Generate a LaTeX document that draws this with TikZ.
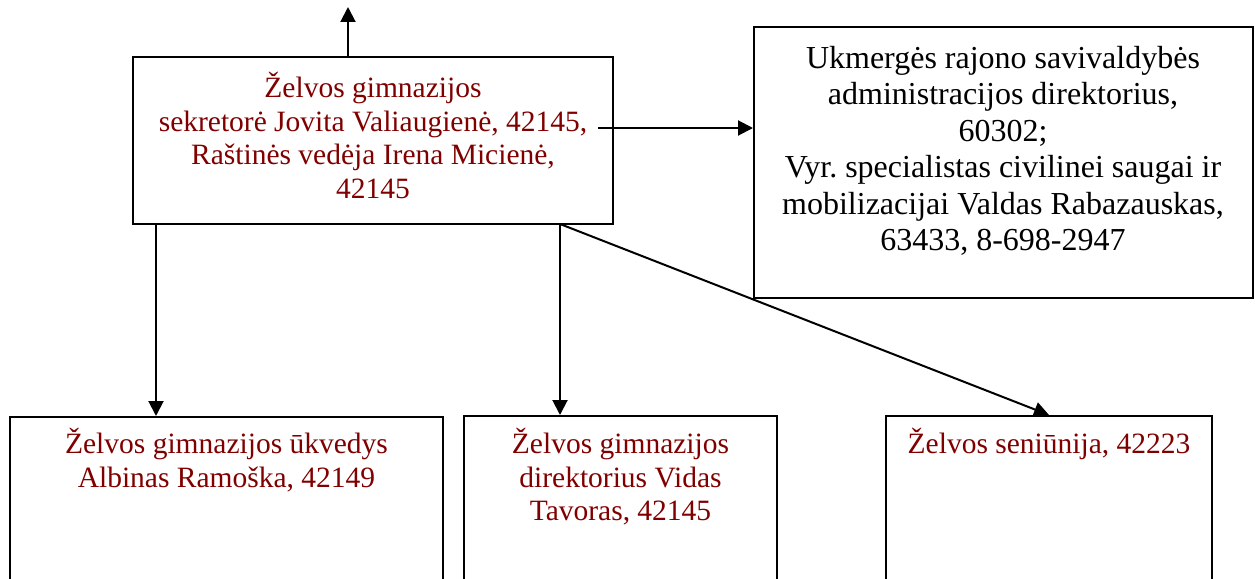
\documentclass[tikz,border=0pt]{standalone}
\usepackage{fontspec}
\setmainfont{Liberation Serif}
\usetikzlibrary{arrows.meta}
\frenchspacing
\definecolor{dred}{RGB}{128,0,0}
\tikzset{
  box/.style={draw=black, line width=2pt, rectangle, inner sep=0pt, fill=none},
  arr/.style={draw=black, line width=2pt, -{Triangle[length=15pt,width=15pt]}},
  redtxt/.style={text=dred, align=center, inner sep=0pt, anchor=north, font=\fontsize{29.5}{33.7}\selectfont},
  blktxt/.style={text=black, align=center, inner sep=0pt, anchor=north, font=\fontsize{32}{36.5}\selectfont\frenchspacing}
}
\begin{document}
\begin{tikzpicture}[x=1pt,y=-1pt]
\useasboundingbox (0,0) rectangle (1255,578);
\clip (0,0) rectangle (1255,578);
% boxes
\node[box, minimum width=480pt, minimum height=167pt] (top) at (373,140.5) {};
\node[box, minimum width=499pt, minimum height=271pt] (right) at (1003.5,162.5) {};
\node[box, minimum width=433pt, minimum height=200pt] (bl) at (226.5,517) {};
\node[box, minimum width=313pt, minimum height=200pt] (bm) at (620.5,516) {};
\node[box, minimum width=326pt, minimum height=200pt] (br) at (1049,516) {};
% texts
\node[redtxt] (topT) at (373,72) {Želvos gimnazijos\\sekretorė Jovita Valiaugienė, 42145,\\Raštinės vedėja Irena Micienė,\\42145};
\node[blktxt] (rightT) at (1003,46) {Ukmergės rajono savivaldybės\\administracijos direktorius,\\60302;\\Vyr. specialistas civilinei saugai ir\\mobilizacijai Valdas Rabazauskas,\\63433, 8-698-2947};
\node[redtxt] (blT) at (226.5,428) {Želvos gimnazijos ūkvedys\\Albinas Ramoška, 42149};
\node[redtxt] (bmT) at (620.5,428) {Želvos gimnazijos\\direktorius Vidas\\Tavoras, 42145};
\node[redtxt] (brT) at (1049,428) {Želvos seniūnija, 42223};
% connectors
\coordinate (upEnd) at (348,7);
\coordinate (rs) at (598,128);
\coordinate (dl) at (156,224);
\coordinate (dm) at (560,224);
\draw[arr] (upEnd |- top.north) -- (upEnd);
\draw[arr] (rs) -- (rs -| right.west);
\draw[arr] (dl) -- (dl |- bl.north);
\draw[arr] (dm) -- (dm |- bm.north);
\draw[arr] (dm) -- (br.north);
\end{tikzpicture}
\end{document}
